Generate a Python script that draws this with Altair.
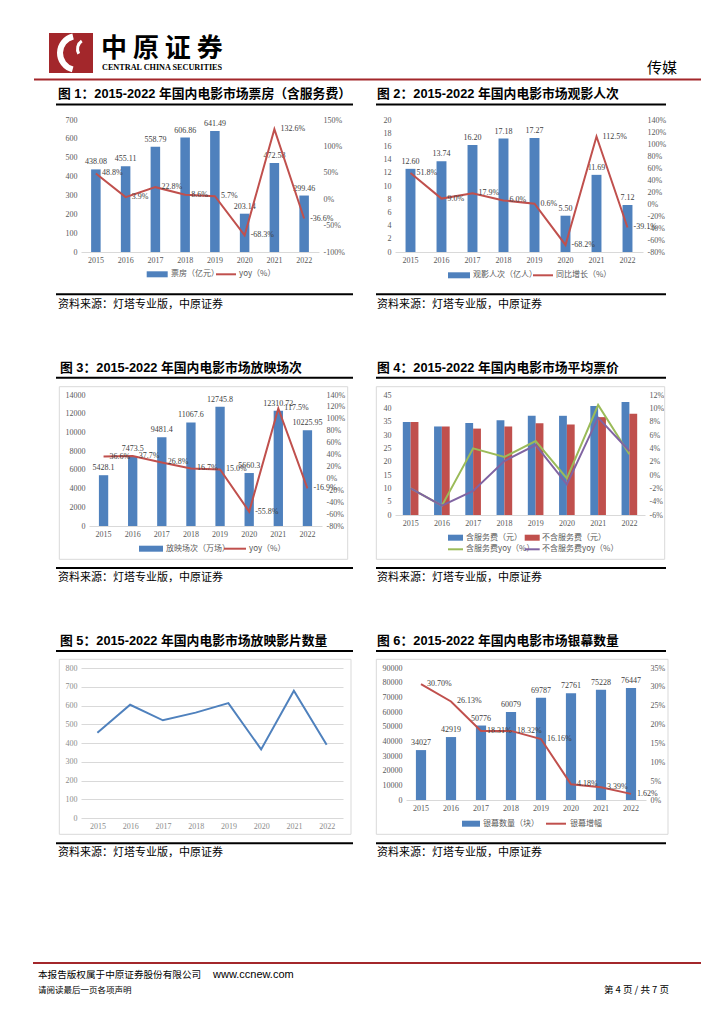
import altair as alt
import pandas as pd

# ---------------- data ----------------
years = ["2015", "2016", "2017", "2018", "2019", "2020", "2021", "2022"]

# fig 1: box office (incl. service fee), 亿元, and yoy %
box_office = [438.08, 455.11, 558.79, 606.86, 641.49, 203.14, 472.58, 299.46]
box_office_yoy = [48.8, 3.9, 22.8, 8.6, 5.7, -68.3, 132.6, -36.6]

# fig 2: admissions, 亿人, and yoy %
admissions = [12.60, 13.74, 16.20, 17.18, 17.27, 5.50, 11.69, 7.12]
admissions_yoy = [51.8, 9.0, 17.9, 6.0, 0.6, -68.2, 112.5, -39.1]

# fig 3: screenings, 万场, and yoy %
screenings = [5428.1, 7473.5, 9481.4, 11067.6, 12745.8, 5660.3, 12310.72, 10225.95]
screenings_lbl = ["5428.1", "7473.5", "9481.4", "11067.6", "12745.8", "5660.3", "12310.72", "10225.95"]
screenings_yoy = [36.6, 37.7, 26.8, 16.7, 15.0, -55.8, 117.5, -16.9]

# fig 4: average ticket price, 元, and yoy %
price_incl = [34.9, 33.2, 34.5, 35.5, 37.2, 37.2, 40.9, 42.4]
price_excl = [34.9, 33.2, 32.4, 33.2, 34.4, 33.9, 36.7, 38.0]
price_incl_yoy = [-2.0, -4.6, 4.0, 2.7, 5.1, -0.5, 10.5, 3.1]
price_excl_yoy = [-2.0, -4.6, -2.4, 2.1, 4.5, -1.4, 8.6, 3.6]

# fig 5: number of films screened
films = [455, 604, 521, 562, 613, 366, 679, 391]

# fig 6: screens and growth %
screens = [34027, 42919, 50776, 60079, 69787, 72761, 75228, 76447]
screens_growth = [30.70, 26.13, 18.31, 18.32, 16.16, 4.18, 3.39, 1.62]

SRC = "资料来源：灯塔专业版，中原证券"

# ---------------- styles ----------------
CJK = "Noto Sans CJK SC"
TFONT = "Liberation Sans, Noto Sans CJK SC"
NUM = "Liberation Serif"
AX = "#595959"
LBL = "#404040"
BLUE = "#4F81BD"
RED = "#C0504D"
GREEN = "#9BBB59"
PURPLE = "#8064A2"
DARKRED = "#A3272B"
GRID = "#D9D9D9"
TSIZE = 12.8
SSIZE = 11

one = pd.DataFrame({"k": [0]})
NOVIEW = alt.ViewBackground(stroke="transparent", strokeOpacity=0, strokeWidth=0, fillOpacity=0)


def txt(s, x, y, size=10.0, color="black", font=CJK, weight="normal", align="left", baseline="middle"):
    return alt.Chart(pd.DataFrame({"t": [s]})).mark_text(
        font=font, fontSize=size, color=color, fontWeight=weight, align=align, baseline=baseline
    ).encode(x=alt.value(x), y=alt.value(y), text="t:N")


def hline(x1, x2, y, color="black", width=1.0):
    return alt.Chart(one).mark_rule(color=color, strokeWidth=width).encode(
        x=alt.value(x1), x2=alt.value(x2), y=alt.value(y))


def rect(x1, x2, y1, y2, fill=None, stroke=None, sw=1.0):
    kw = {}
    if fill is not None:
        kw["fill"] = fill
    else:
        kw["fillOpacity"] = 0
    if stroke is not None:
        kw["stroke"] = stroke
        kw["strokeWidth"] = sw
    return alt.Chart(one).mark_rect(**kw).encode(
        x=alt.value(x1), x2=alt.value(x2), y=alt.value(y1), y2=alt.value(y2))


def spacer(w, h):
    return alt.Chart(one).mark_point(opacity=0, size=1).encode(
        x=alt.value(0), y=alt.value(0)).properties(width=w, height=h, view=NOVIEW)


def leg_rect(x1, x2, y, color, h=6):
    return rect(x1, x2, y - h / 2, y + h / 2, fill=color)


def leg_line(x1, x2, y, color):
    return hline(x1, x2, y, color=color, width=2)


def leg_text(s, x, y):
    return txt(s, x, y, size=8, color=AX)


def title(s, x, y):
    return txt(s, x, y, size=TSIZE, weight="bold", font=TFONT)


def source(x, y):
    return txt(SRC, x, y, size=SSIZE)


def xaxis(color=AX, domain=True):
    return alt.Axis(title=None, labelFont=NUM, labelFontSize=8, labelColor=color, ticks=False,
                    domain=domain, domainColor=GRID, labelPadding=4, labelAngle=0, grid=False)


def yaxis(orient, values, pct=False, grid=False, color=AX, offset=0):
    return alt.Axis(orient=orient, title=None, values=values, labelFont=NUM, labelFontSize=8,
                    labelColor=color, ticks=False, domain=False, grid=grid, gridColor=GRID,
                    labelPadding=4, labelOverlap=False, offset=offset,
                    labelExpr=("datum.value + '%'" if pct else "datum.value + ''"))


def band_x(pi, rng=None):
    if rng is None:
        sc = alt.Scale(paddingInner=pi, paddingOuter=pi / 2)
    else:
        sc = alt.Scale(paddingInner=pi, paddingOuter=pi / 2, range=rng)
    return alt.X("year:O", scale=sc, axis=xaxis())


def bar_line_panel(values, vlabels, rates, rlabels, ldom, lvals, rdom, rvals, pi, w, h, decos,
                   rng=None, loff=0):
    d = pd.DataFrame({"year": years, "v": values, "r": rates, "vl": vlabels, "rl": rlabels})
    X = band_x(pi, rng)
    YL = alt.Y("v:Q", scale=alt.Scale(domain=ldom, nice=False, zero=False),
               axis=yaxis("left", lvals, offset=loff))
    YR = alt.Y("r:Q", scale=alt.Scale(domain=rdom, nice=False, zero=False),
               axis=yaxis("right", rvals, pct=True))
    bars = alt.Chart(d).mark_bar(color=BLUE).encode(x=X, y=YL)
    blbl = alt.Chart(d).mark_text(font=NUM, fontSize=8, color=LBL, baseline="bottom", dy=-3).encode(
        x=X, y=YL, text="vl:N")
    line = alt.Chart(d).mark_line(color=RED, strokeWidth=2).encode(x=X, y=YR)
    rlbl = alt.Chart(d).mark_text(font=NUM, fontSize=8, color=LBL, align="left", dx=6).encode(
        x=X, y=YR, text="rl:N")
    left = alt.layer(bars, blbl)
    right = alt.layer(line, rlbl)
    return alt.layer(left, right, *decos).resolve_scale(y="independent").properties(
        width=w, height=h, view=NOVIEW)


def pct1(v):
    return [f"{x:.1f}%" for x in v]


# ---------------- panel 1 (origin page 80,119) ----------------
p1 = bar_line_panel(
    box_office, [f"{x:.2f}" for x in box_office], box_office_yoy, pct1(box_office_yoy),
    [0, 700], list(range(0, 701, 100)), [-100, 150], list(range(-100, 151, 50)), 0.68, 238, 132,
    [
        title("图 1：2015-2022 年国内电影市场票房（含服务费）", -23, -26),
        hline(-25, 272, -15.5, width=2),
        leg_rect(65.7, 86.7, 154.3, BLUE), leg_text("票房（亿元）", 90, 154.3),
        leg_line(135, 155, 154.3, RED), leg_text("yoy（%）", 158, 154.3),
        hline(-25, 272, 174.3, width=2),
        source(-23, 185),
    ])

# ---------------- panel 2 (origin page 394,119) ----------------
p2 = bar_line_panel(
    admissions, [f"{x:.2f}" for x in admissions], admissions_yoy, pct1(admissions_yoy),
    [0, 20], list(range(0, 21, 2)), [-80, 140], list(range(-80, 141, 20)), 0.68, 248, 132,
    [
        title("图 2：2015-2022 年国内电影市场观影人次", -18, -26),
        hline(-19, 271, -15.5, width=2),
        leg_rect(53, 75, 155.3, BLUE), leg_text("观影人次（亿人）", 78, 155.3),
        leg_line(138, 158, 155.3, RED), leg_text("同比增长（%）", 161, 155.3),
        hline(-19, 271, 174.3, width=2),
        source(-18, 185),
    ])

# ---------------- panel 3 (origin page 80,394; plot starts at +8) ----------------
p3 = bar_line_panel(
    screenings, screenings_lbl, screenings_yoy, pct1(screenings_yoy),
    [0, 14000], list(range(0, 14001, 2000)), [-80, 140], list(range(-80, 141, 20)), 0.68, 241, 131,
    [
        rect(-21.7, 266.7, -8.3, 164.3, stroke=GRID),
        title("图 3：2015-2022 年国内电影市场放映场次", -21, -27.3),
        hline(-25, 272, -17.3, width=2),
        leg_rect(58, 82, 153.7, BLUE), leg_text("放映场次（万场）", 85, 153.7),
        leg_line(143, 165, 153.7, RED), leg_text("yoy（%）", 168, 153.7),
        hline(-25, 272, 173, width=2),
        source(-23, 183),
    ],
    rng=[8, 241], loff=-8)

# ---------------- panel 4 (origin page 394,394) ----------------
d4b = pd.DataFrame({
    "year": years * 2,
    "s": ["含服务费（元）"] * 8 + ["不含服务费（元）"] * 8,
    "v": price_incl + price_excl,
})
d4g = pd.DataFrame({"year": years, "r": price_incl_yoy})
d4p = pd.DataFrame({"year": years, "r": price_excl_yoy})
X4 = band_x(0.5)
Y4L = alt.Y("v:Q", scale=alt.Scale(domain=[0, 45], nice=False), axis=yaxis("left", list(range(0, 46, 5))))
Y4R = alt.Y("r:Q", scale=alt.Scale(domain=[-6, 12], nice=False, zero=False),
            axis=yaxis("right", list(range(-6, 13, 2)), pct=True))
bars4 = alt.Chart(d4b).mark_bar().encode(
    x=X4, y=Y4L,
    xOffset=alt.XOffset("s:N", sort=["含服务费（元）", "不含服务费（元）"],
                        scale=alt.Scale(paddingInner=0, paddingOuter=0)),
    color=alt.Color("s:N", scale=alt.Scale(domain=["含服务费（元）", "不含服务费（元）"], range=[BLUE, RED]),
                    legend=None),
)
lg4 = alt.Chart(d4g).mark_line(color=GREEN, strokeWidth=2).encode(x=X4, y=Y4R)
lp4 = alt.Chart(d4p).mark_line(color=PURPLE, strokeWidth=2).encode(x=X4, y=Y4R)
p4 = alt.layer(
    bars4, alt.layer(lg4, lp4),
    rect(-18.7, 269.7, -8.3, 164.3, stroke=GRID),
    title("图 4：2015-2022 年国内电影市场平均票价", -18, -27.3),
    hline(-19, 271, -17.3, width=2),
    leg_rect(53, 68, 142.7, BLUE), leg_text("含服务费（元）", 71, 142.7),
    leg_rect(129.7, 144.7, 142.7, RED), leg_text("不含服务费（元）", 147, 142.7),
    leg_line(53, 68, 154.3, GREEN), leg_text("含服务费yoy（%）", 71, 154.3),
    leg_line(129.7, 144.7, 154.3, PURPLE), leg_text("不含服务费yoy（%）", 147, 154.3),
    hline(-19, 271, 173, width=2),
    source(-18, 183),
).resolve_scale(y="independent").properties(width=250, height=120, view=NOVIEW)

# ---------------- panel 5 (origin page 80,667) ----------------
d5 = pd.DataFrame({"year": years, "v": films})
line5 = alt.Chart(d5).mark_line(color=BLUE, strokeWidth=2).encode(
    x=alt.X("year:O", axis=xaxis(color="#8C8C8C", domain=False)),
    y=alt.Y("v:Q", scale=alt.Scale(domain=[0, 800], nice=False),
            axis=yaxis("left", list(range(0, 801, 100)), grid=True, color="#8C8C8C")),
)
p5 = alt.layer(
    line5,
    rect(-21.7, 270, -8.7, 166.3, stroke=GRID),
    title("图 5：2015-2022 年国内电影市场放映影片数量", -21, -27),
    hline(-25, 272, -17, width=2),
    hline(-25, 272, 175.3, width=2),
    source(-23, 185.3),
).properties(width=262, height=150, view=NOVIEW)

# ---------------- panel 6 (origin page 394,667; plot starts at +11) ----------------
p6 = bar_line_panel(
    screens, [str(x) for x in screens], screens_growth, [f"{x:.2f}%" for x in screens_growth],
    [0, 90000], list(range(0, 90001, 10000)), [0, 35], list(range(0, 36, 5)), 0.66, 251, 132,
    [
        rect(-18.7, 273, -8.7, 166.3, stroke=GRID),
        title("图 6：2015-2022 年国内电影市场银幕数量", -18, -27),
        hline(-19, 271, -17, width=2),
        leg_rect(67, 85, 155.7, BLUE), leg_text("银幕数量（块）", 88, 155.7),
        leg_line(151, 171, 155.7, RED), leg_text("银幕增幅", 175, 155.7),
        hline(-19, 271, 175.3, width=2),
        source(-18, 185.3),
    ],
    rng=[11, 251], loff=-11)

# ---------------- page header & footer ----------------
logo_arc1 = alt.Chart(one).mark_arc(color="white", theta=3.4, theta2=6.05, radius=20, radius2=14).encode(
    x=alt.value(68), y=alt.value(44))
logo_arc2 = alt.Chart(one).mark_arc(color="white", theta=4.2, theta2=5.7, radius=11, radius2=8).encode(
    x=alt.value(78), y=alt.value(40))
header = alt.layer(
    rect(0, 1, 0, 1, fill="white"),
    rect(40, 84, 24, 64, fill=DARKRED),
    logo_arc1, logo_arc2,
    txt("中  原  证  券", 92, 40, size=26, weight="bold"),
    txt("CENTRAL CHINA SECURITIES", 93, 58.5, size=8.2, font=NUM, weight="bold"),
    txt("传媒", 668, 59, size=15, align="right"),
    hline(25, 692, 70.5, color=DARKRED, width=2),
).properties(width=1, height=111, view=NOVIEW)

footer = alt.layer(
    alt.Chart(one).mark_point(opacity=0, size=1).encode(x=alt.value(0), y=alt.value(0)),
    hline(24, 692, 295, color=DARKRED, width=2),
    txt("本报告版权属于中原证券股份有限公司", 29, 307, size=9.6),
    txt("www.ccnew.com", 204, 307, size=11, font="Liberation Sans"),
    txt("请阅读最后一页各项声明", 29, 322, size=8.5),
    txt("第 4 页 / 共 7 页", 660, 322, size=9.5, align="right"),
).properties(width=72, height=340, view=NOVIEW)

cells = [
    header, spacer(1, 1), spacer(1, 1), spacer(1, 1),
    spacer(72, 275), p1, spacer(52, 1), p2,
    spacer(72, 273), p3, spacer(52, 1), p4,
    footer, p5, spacer(52, 1), p6,
]

chart = alt.concat(
    *cells, columns=4, spacing=0, bounds="flush", align="each", padding=0,
).configure_view(stroke=None, strokeWidth=0).configure(background="white")

chart.save("out.html", embed_options={"renderer": "svg", "actions": False})
